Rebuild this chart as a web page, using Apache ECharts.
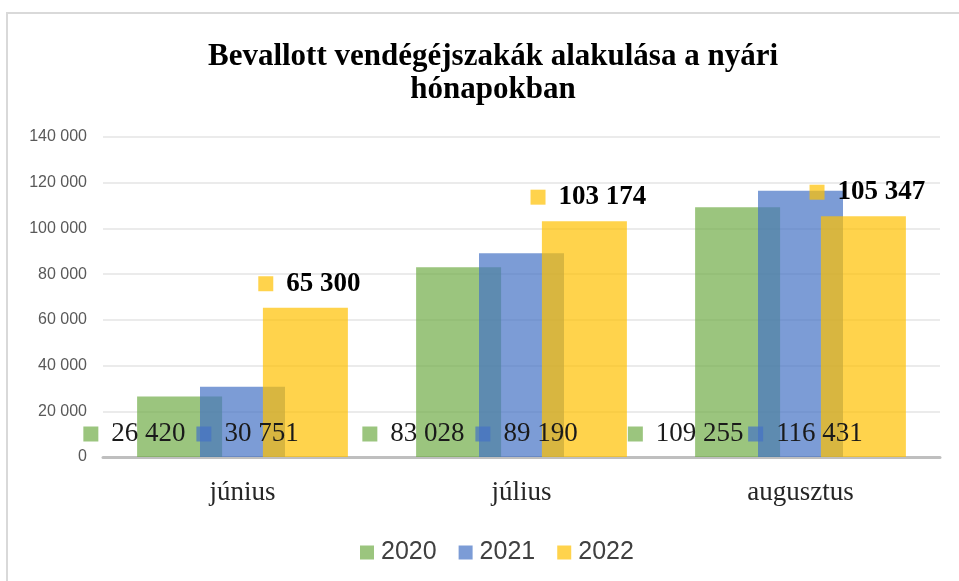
<!DOCTYPE html>
<html>
<head>
<meta charset="utf-8">
<script src="https://cdn.jsdelivr.net/npm/echarts@6/dist/echarts.min.js"></script>
<style>
  html, body { margin: 0; padding: 0; background: #fff; }
  #chart { width: 959px; height: 581px; }
</style>
</head>
<body>
<div id="chart"></div>
<script>
const months = ['június', 'július', 'augusztus'];
const years = ['2020', '2021', '2022'];
const values2020 = [26420, 83028, 109255];
const values2021 = [30751, 89190, 116431];
const values2022 = [65300, 103174, 105347];

const colors = ['rgba(112,173,71,0.7)', 'rgba(68,114,196,0.7)', 'rgba(255,192,0,0.7)'];
const serif = '"Liberation Serif", "DejaVu Serif", serif';
const sans = '"Liberation Sans", Arial, sans-serif';

function fmt(v) {
  return String(v).replace(/\B(?=(\d{3})+(?!\d))/g, ' ');
}

function barLabel(color, bold) {
  return {
    show: true,
    formatter: p => '{sq|}{v|' + fmt(p.value) + '}',
    rich: {
      sq: { width: 15, height: 15, backgroundColor: color, padding: 0 },
      v: {
        fontFamily: serif,
        fontSize: 27,
        fontWeight: bold ? 'bold' : 'normal',
        color: bold ? '#000' : '#1a1a1a',
        padding: [0, 0, 0, 13],
        lineHeight: 26
      }
    }
  };
}

let chartDom = document.getElementById('chart');
let myChart = echarts.init(chartDom);
let option;

option = {
  animation: false,
  graphic: [
    {
      type: 'rect',
      shape: { x: 7, y: 13, width: 1000, height: 700 },
      style: { fill: 'none', stroke: '#D9D9D9', lineWidth: 2 },
      silent: true
    }
  ],
  title: {
    text: 'Bevallott vendégéjszakák alakulása a nyári\nhónapokban',
    left: 488,
    textAlign: 'center',
    top: 35,
    textStyle: {
      fontFamily: serif,
      fontWeight: 'bold',
      fontSize: 31,
      lineHeight: 33,
      color: '#000'
    }
  },
  legend: {
    data: years,
    left: 355,
    top: 535,
    itemWidth: 14,
    itemHeight: 14,
    itemGap: 22,
    icon: 'rect',
    textStyle: {
      fontFamily: sans,
      fontSize: 25,
      color: '#404040',
      padding: [0, 0, 0, 2]
    }
  },
  grid: {
    left: 103,
    right: 19,
    top: 137,
    bottom: 124
  },
  xAxis: {
    type: 'category',
    data: months,
    axisLine: { lineStyle: { color: '#BFBFBF', width: 3 } },
    axisTick: { show: false },
    axisLabel: {
      fontFamily: serif,
      fontSize: 27,
      color: '#262626',
      margin: 22
    }
  },
  yAxis: {
    type: 'value',
    min: 0,
    max: 140000,
    interval: 20000,
    axisLine: { show: false },
    axisTick: { show: false },
    axisLabel: {
      fontFamily: sans,
      fontSize: 16,
      color: '#595959',
      margin: 16,
      formatter: v => fmt(v)
    },
    splitLine: { lineStyle: { color: '#EBEBEB', width: 2 } }
  },
  series: [
    {
      name: '2020',
      type: 'bar',
      data: values2020,
      barWidth: 85,
      barGap: '-26%',
      itemStyle: { color: colors[0] },
      label: Object.assign(barLabel(colors[0], false), {
        position: 'insideBottom',
        align: 'right',
        distance: 5,
        offset: [6, -5]
      })
    },
    {
      name: '2021',
      type: 'bar',
      data: values2021,
      barWidth: 85,
      barGap: '-26%',
      itemStyle: { color: colors[1] },
      label: Object.assign(barLabel(colors[1], false), {
        position: 'insideBottom',
        distance: 5,
        offset: [5, -5]
      })
    },
    {
      name: '2022',
      type: 'bar',
      data: values2022,
      barWidth: 85,
      barGap: '-26%',
      itemStyle: { color: colors[2] },
      label: Object.assign(barLabel(colors[2], true), {
        position: 'top',
        distance: 5,
        offset: [4, -6]
      })
    }
  ]
};

option && myChart.setOption(option);
</script>
</body>
</html>
